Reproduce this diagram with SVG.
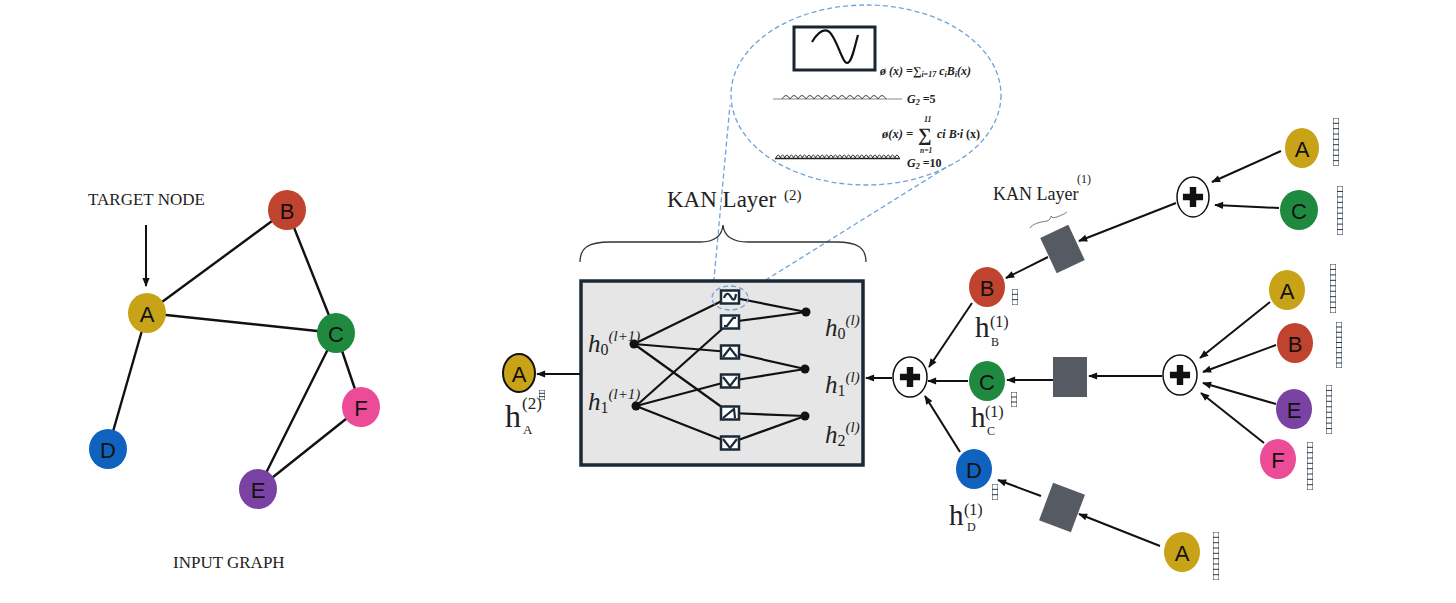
<svg xmlns="http://www.w3.org/2000/svg" xmlns:xlink="http://www.w3.org/1999/xlink" width="1456" height="603" viewBox="0 0 1456 603">
<style>
.edge{stroke:#111;stroke-width:2.4;fill:none}
.arr{stroke:#111;stroke-width:2;fill:none;marker-end:url(#ah)}
.nl{font-family:"Liberation Sans",Arial,sans-serif;font-size:22px;fill:#111;text-anchor:middle;dominant-baseline:central}
.serif{font-family:"Liberation Serif","Times New Roman",serif;fill:#222}
.mi{font-family:"Liberation Serif","Times New Roman",serif;font-style:italic;fill:#222}
.fm{font-family:"Liberation Serif","Times New Roman",serif;font-weight:bold;font-style:italic;fill:#222}
.dash{stroke:#6fa3d8;stroke-width:1.3;stroke-dasharray:5 3;fill:none}
.fbox{fill:#fff;stroke:#1b2a38;stroke-width:2.5}
.ficon{fill:none;stroke:#1b2a38;stroke-width:2.2}
.sq{fill:#555a63}
.plus{fill:#fff;stroke:#111;stroke-width:1.5}
.cell{fill:#fff;stroke:#2a3a4a;stroke-width:1}
</style>
<defs>
<marker id="ah" viewBox="0 0 10 10" refX="9" refY="5" markerWidth="10" markerHeight="9" markerUnits="userSpaceOnUse" orient="auto">
<path d="M0,1 L10,5 L0,9 z" fill="#111"/>
</marker>
<symbol id="vec" viewBox="0 0 6 45" preserveAspectRatio="none">
<rect x="0" y="0" width="6" height="45" class="cell" vector-effect="non-scaling-stroke"/>
<path d="M0,5H6M0,10H6M0,15H6M0,20H6M0,25H6M0,30H6M0,35H6M0,40H6" stroke="#2a3a4a" stroke-width="1" vector-effect="non-scaling-stroke"/>
</symbol>
<symbol id="vec3" viewBox="0 0 6 15" preserveAspectRatio="none">
<rect x="0" y="0" width="6" height="15" class="cell" vector-effect="non-scaling-stroke"/>
<path d="M0,5H6M0,10H6" stroke="#2a3a4a" stroke-width="1" vector-effect="non-scaling-stroke"/>
</symbol>
<symbol id="pl" viewBox="-12 -12 24 24">
<path d="M-3.5,-11H3.5V-3.5H11V3.5H3.5V11H-3.5V3.5H-11V-3.5H-3.5z" fill="#111"/>
</symbol>
</defs>
<rect width="1456" height="603" fill="#fff"/>

<!-- Input graph -->
<g id="graph-edges">
<line class="edge" x1="147" y1="313" x2="287" y2="210"/>
<line class="edge" x1="147" y1="313" x2="336" y2="333"/>
<line class="edge" x1="147" y1="313" x2="108" y2="449"/>
<line class="edge" x1="287" y1="210" x2="336" y2="333"/>
<line class="edge" x1="336" y1="333" x2="258" y2="489"/>
<line class="edge" x1="336" y1="333" x2="361" y2="407"/>
<line class="edge" x1="361" y1="407" x2="258" y2="489"/>
</g>
<g id="g-A"><ellipse cx="147" cy="313" rx="19" ry="20" fill="#c8a318"/><text class="nl" x="147" y="314">A</text></g>
<g id="g-B"><ellipse cx="287" cy="210" rx="19" ry="20" fill="#c0432f"/><text class="nl" x="287" y="211">B</text></g>
<g id="g-C"><ellipse cx="336" cy="333" rx="19" ry="20" fill="#1f8a3f"/><text class="nl" x="336" y="334">C</text></g>
<g id="g-D"><ellipse cx="108" cy="449" rx="19" ry="20" fill="#1062bf"/><text class="nl" x="108" y="450">D</text></g>
<g id="g-E"><ellipse cx="258" cy="489" rx="19" ry="20" fill="#7a43a3"/><text class="nl" x="258" y="490">E</text></g>
<g id="g-F"><ellipse cx="361" cy="407" rx="19" ry="20" fill="#ec4b97"/><text class="nl" x="361" y="408">F</text></g>
<text class="serif" x="88" y="205" font-size="17">TARGET NODE</text>
<text class="serif" x="173" y="568" font-size="17">INPUT GRAPH</text>

<!-- Zoom bubble -->
<g id="bubble">
<ellipse class="dash" cx="866" cy="95" rx="135" ry="90"/>
<line class="dash" x1="713" y1="290" x2="730" y2="105"/>
<line class="dash" x1="745" y1="293" x2="950" y2="165"/>
<rect x="794" y="27" width="81" height="43" fill="#fff" stroke="#1b2530" stroke-width="3"/>
<path d="M812,42 C818,32 823,29 828,31 C836,35 842,63 847,63 C852,63 855,45 858,35" fill="none" stroke="#111" stroke-width="2.2"/>
<text class="fm" x="880" y="75" font-size="12">ø (x) =∑<tspan font-size="8" dy="2">i=17</tspan><tspan dy="-2"> c</tspan><tspan font-size="8" dy="2">i</tspan><tspan dy="-2">B</tspan><tspan font-size="8" dy="2">i</tspan><tspan dy="-2">(x)</tspan></text>
<line x1="773" y1="99" x2="902" y2="99" stroke="#888" stroke-width="1"/>
<path d="M782,99 q4,-7 8,0 q4,-7 8,0 q4,-7 8,0 q4,-7 8,0 q4,-7 8,0 q4,-7 8,0 q4,-7 8,0 q4,-7 8,0 q4,-7 8,0 q4,-7 8,0 q4,-7 8,0 q4,-7 8,0 q4,-7 8,0" fill="none" stroke="#444" stroke-width="1"/>
<text class="fm" x="907" y="103" font-size="12">G<tspan font-size="8" dy="2">2</tspan><tspan dy="-2" font-style="normal"> =5</tspan></text>
<text class="fm" x="882" y="138" font-size="12.5">ø(x) =</text>
<text class="fm" x="918" y="141" font-size="19" font-style="normal">∑</text>
<text class="fm" x="924" y="122" font-size="8" font-style="normal">11</text>
<text class="fm" x="920" y="153" font-size="7.5">n=1</text>
<text class="fm" x="937" y="138" font-size="12">ci B·i <tspan font-style="normal">(x)</tspan></text>
<line x1="775" y1="158.5" x2="900" y2="158.5" stroke="#222" stroke-width="1.6"/>
<path d="M776,158 q2.2,-6 4.4,0 q2.2,-6 4.4,0 q2.2,-6 4.4,0 q2.2,-6 4.4,0 q2.2,-6 4.4,0 q2.2,-6 4.4,0 q2.2,-6 4.4,0 q2.2,-6 4.4,0 q2.2,-6 4.4,0 q2.2,-6 4.4,0 q2.2,-6 4.4,0 q2.2,-6 4.4,0 q2.2,-6 4.4,0 q2.2,-6 4.4,0 q2.2,-6 4.4,0 q2.2,-6 4.4,0 q2.2,-6 4.4,0 q2.2,-6 4.4,0 q2.2,-6 4.4,0 q2.2,-6 4.4,0 q2.2,-6 4.4,0 q2.2,-6 4.4,0 q2.2,-6 4.4,0 q2.2,-6 4.4,0 q2.2,-6 4.4,0 q2.2,-6 4.4,0 q2.2,-6 4.4,0 q2.2,-6 4.4,0" fill="none" stroke="#333" stroke-width="1"/>
<text class="fm" x="907" y="167" font-size="12">G<tspan font-size="8" dy="2">2</tspan><tspan dy="-2" font-style="normal"> =10</tspan></text>
</g>

<!-- KAN Layer (2) label and brace -->
<text class="serif" x="667" y="207" font-size="23">KAN Layer</text>
<text class="serif" x="784" y="200" font-size="15">(2)</text>
<path d="M580,262 C580,248 588,242 610,242 L700,242 C715,242 722,236 723,225 C724,236 731,242 748,242 L836,242 C858,242 866,248 866,262" fill="none" stroke="#333" stroke-width="1.3"/>

<!-- KAN box -->
<g id="kan-box">
<rect x="581" y="281" width="282" height="184" fill="#e6e6e6" stroke="#1b2836" stroke-width="3.5"/>
<g stroke="#111" stroke-width="2.2" fill="none">
<line x1="634" y1="344" x2="730" y2="297"/>
<line x1="634" y1="344" x2="730" y2="352"/>
<line x1="634" y1="344" x2="730" y2="413"/>
<line x1="636" y1="406" x2="730" y2="322"/>
<line x1="636" y1="406" x2="730" y2="381"/>
<line x1="636" y1="406" x2="730" y2="443"/>
<line x1="730" y1="297" x2="806" y2="312"/>
<line x1="730" y1="322" x2="806" y2="312"/>
<line x1="730" y1="352" x2="805" y2="369"/>
<line x1="730" y1="381" x2="805" y2="369"/>
<line x1="730" y1="413" x2="805" y2="416"/>
<line x1="730" y1="443" x2="805" y2="416"/>
</g>
<g fill="#111">
<circle cx="634" cy="344" r="4.5"/><circle cx="636" cy="406" r="4.5"/>
<circle cx="806" cy="312" r="4.5"/><circle cx="805" cy="369" r="4.5"/><circle cx="805" cy="416" r="4.5"/>
</g>
<rect class="fbox" x="721" y="290.5" width="18" height="13"/>
<path class="ficon" d="M724,298 C726,292 729,293 731,297 C733,301 735,301 736,294"/>
<rect class="fbox" x="721" y="315.5" width="18" height="13"/>
<path class="ficon" d="M724,326 L727,326 L733,318 L736,318"/>
<rect class="fbox" x="721" y="345.5" width="18" height="13"/>
<path class="ficon" d="M723,357 L730,348 L737,357"/>
<rect class="fbox" x="721" y="374.5" width="18" height="13"/>
<path class="ficon" d="M723,377 L730,386 L737,377"/>
<rect class="fbox" x="721" y="406.5" width="18" height="13"/>
<path class="ficon" d="M723,418 L734,409 L735,418"/>
<rect class="fbox" x="721" y="436.5" width="18" height="13"/>
<path class="ficon" d="M723,439 L730,448 L737,439"/>
<ellipse class="dash" cx="730" cy="298" rx="18" ry="12"/>
<text class="mi" x="588" y="352" font-size="25">h<tspan font-size="16" dy="3" font-style="normal">0</tspan><tspan font-size="15" dy="-14">(l+1)</tspan></text>
<text class="mi" x="588" y="410" font-size="25">h<tspan font-size="16" dy="3" font-style="normal">1</tspan><tspan font-size="15" dy="-14">(l+1)</tspan></text>
<text class="mi" x="825" y="336" font-size="25">h<tspan font-size="16" dy="3" font-style="normal">0</tspan><tspan font-size="15" dy="-14">(l)</tspan></text>
<text class="mi" x="825" y="393" font-size="25">h<tspan font-size="16" dy="3" font-style="normal">1</tspan><tspan font-size="15" dy="-14">(l)</tspan></text>
<text class="mi" x="825" y="443" font-size="25">h<tspan font-size="16" dy="3" font-style="normal">2</tspan><tspan font-size="15" dy="-14">(l)</tspan></text>
</g>

<!-- Output A -->
<g id="out-A">
<ellipse cx="519" cy="373" rx="16" ry="19" fill="#c8a318" stroke="#111" stroke-width="2"/>
<text class="nl" x="519" y="374">A</text>
<use xlink:href="#vec3" x="539" y="390" width="6" height="10"/>
<text class="serif" x="505" y="427" font-size="32">h</text>
<text class="serif" x="522" y="409" font-size="17">(2)</text>
<text class="serif" x="523" y="434" font-size="13">A</text>
</g>

<!-- Layer 1 nodes -->
<g id="l1-B">
<ellipse cx="987" cy="287" rx="18" ry="20" fill="#c0432f"/><text class="nl" x="987" y="288">B</text>
<use xlink:href="#vec3" x="1012" y="289" width="6" height="16"/>
<text class="serif" x="975" y="337" font-size="29">h</text>
<text class="serif" x="990" y="327" font-size="16">(1)</text>
<text class="serif" x="991" y="346" font-size="12">B</text>
</g>
<g id="l1-C">
<ellipse cx="987" cy="381" rx="18" ry="20" fill="#1f8a3f"/><text class="nl" x="987" y="382">C</text>
<use xlink:href="#vec3" x="1011" y="392" width="6" height="15"/>
<text class="serif" x="971" y="427" font-size="29">h</text>
<text class="serif" x="985" y="417" font-size="16">(1)</text>
<text class="serif" x="987" y="435" font-size="12">C</text>
</g>
<g id="l1-D">
<ellipse cx="974" cy="469" rx="18" ry="20" fill="#1062bf"/><text class="nl" x="974" y="470">D</text>
<use xlink:href="#vec3" x="992" y="484" width="6" height="16"/>
<text class="serif" x="949" y="525" font-size="29">h</text>
<text class="serif" x="964" y="515" font-size="16">(1)</text>
<text class="serif" x="967" y="531" font-size="12">D</text>
</g>
<g id="plus-1"><ellipse class="plus" cx="910" cy="377" rx="17" ry="20"/><use xlink:href="#pl" x="899" y="366" width="22" height="22"/></g>
<g id="plus-2"><ellipse class="plus" cx="1180" cy="375" rx="17" ry="20"/><use xlink:href="#pl" x="1169" y="364" width="22" height="22"/></g>
<g id="plus-3"><ellipse class="plus" cx="1193" cy="197" rx="16" ry="20"/><use xlink:href="#pl" x="1182" y="186" width="22" height="22"/></g>

<!-- KAN Layer 1 squares -->
<g id="kan1-top"><rect class="sq" x="-15.5" y="-19.5" width="31" height="39" transform="translate(1062.5,249) rotate(-25)"/></g>
<g id="kan1-mid"><rect class="sq" x="1053" y="357" width="34" height="40"/></g>
<g id="kan1-bot"><rect class="sq" x="-17" y="-20" width="34" height="40" transform="translate(1062,507.5) rotate(20.6)"/></g>
<text class="serif" x="993" y="200" font-size="18">KAN Layer</text>
<text class="serif" x="1077" y="183" font-size="12">(1)</text>
<path d="M1030,228 C1032,224 1040,222 1047,221 C1050,220 1051,218 1051,216 C1052,218 1054,218 1057,217 C1062,215 1066,213 1067,212" fill="none" stroke="#777" stroke-width="1"/>

<!-- Input nodes right -->
<g id="r-A1"><ellipse cx="1302" cy="148" rx="17" ry="20" fill="#c8a318"/><text class="nl" x="1302" y="149">A</text><use xlink:href="#vec" x="1333" y="118" width="6" height="48"/></g>
<g id="r-C1"><ellipse cx="1299" cy="210" rx="19" ry="20" fill="#1f8a3f"/><text class="nl" x="1299" y="211">C</text><use xlink:href="#vec" x="1337" y="186" width="6" height="49"/></g>
<g id="r-A2"><ellipse cx="1287" cy="290" rx="18" ry="20" fill="#c8a318"/><text class="nl" x="1287" y="291">A</text><use xlink:href="#vec" x="1330" y="264" width="6" height="49"/></g>
<g id="r-B2"><ellipse cx="1295" cy="343" rx="18" ry="20" fill="#c0432f"/><text class="nl" x="1295" y="344">B</text><use xlink:href="#vec" x="1336" y="322" width="6" height="46"/></g>
<g id="r-E2"><ellipse cx="1294" cy="409" rx="18" ry="20" fill="#7a43a3"/><text class="nl" x="1294" y="410">E</text><use xlink:href="#vec" x="1326" y="385" width="6" height="49"/></g>
<g id="r-F2"><ellipse cx="1278" cy="459" rx="18" ry="20" fill="#ec4b97"/><text class="nl" x="1278" y="460">F</text><use xlink:href="#vec" x="1307" y="442" width="6" height="48"/></g>
<g id="r-A3"><ellipse cx="1182" cy="552" rx="18" ry="20" fill="#c8a318"/><text class="nl" x="1182" y="553">A</text><use xlink:href="#vec" x="1213" y="532" width="6" height="48"/></g>

<!-- Connectors -->
<g id="connectors">
<line class="arr" x1="146" y1="225" x2="146" y2="286"/>
<line class="arr" x1="580" y1="374" x2="537" y2="374"/>
<line class="arr" x1="892" y1="378" x2="866" y2="378"/>
<line class="arr" x1="972" y1="303" x2="929" y2="367"/>
<line class="arr" x1="968" y1="381" x2="928" y2="381"/>
<line class="arr" x1="960" y1="452" x2="925" y2="396"/>
<line class="arr" x1="1053" y1="380" x2="1007" y2="380"/>
<line class="arr" x1="1162" y1="376" x2="1089" y2="376"/>
<line class="arr" x1="1270" y1="302" x2="1200" y2="358"/>
<line class="arr" x1="1276" y1="345" x2="1203" y2="372"/>
<line class="arr" x1="1276" y1="404" x2="1203" y2="383"/>
<line class="arr" x1="1264" y1="443" x2="1201" y2="393"/>
<line class="arr" x1="1160" y1="546" x2="1079" y2="514"/>
<line class="arr" x1="1041" y1="496" x2="998" y2="480"/>
<line class="arr" x1="1281" y1="151" x2="1212" y2="182"/>
<line class="arr" x1="1279" y1="208" x2="1215" y2="205"/>
<line class="arr" x1="1176" y1="203" x2="1079" y2="241"/>
<line class="arr" x1="1048" y1="257" x2="1006" y2="278"/>
</g>
</svg>
